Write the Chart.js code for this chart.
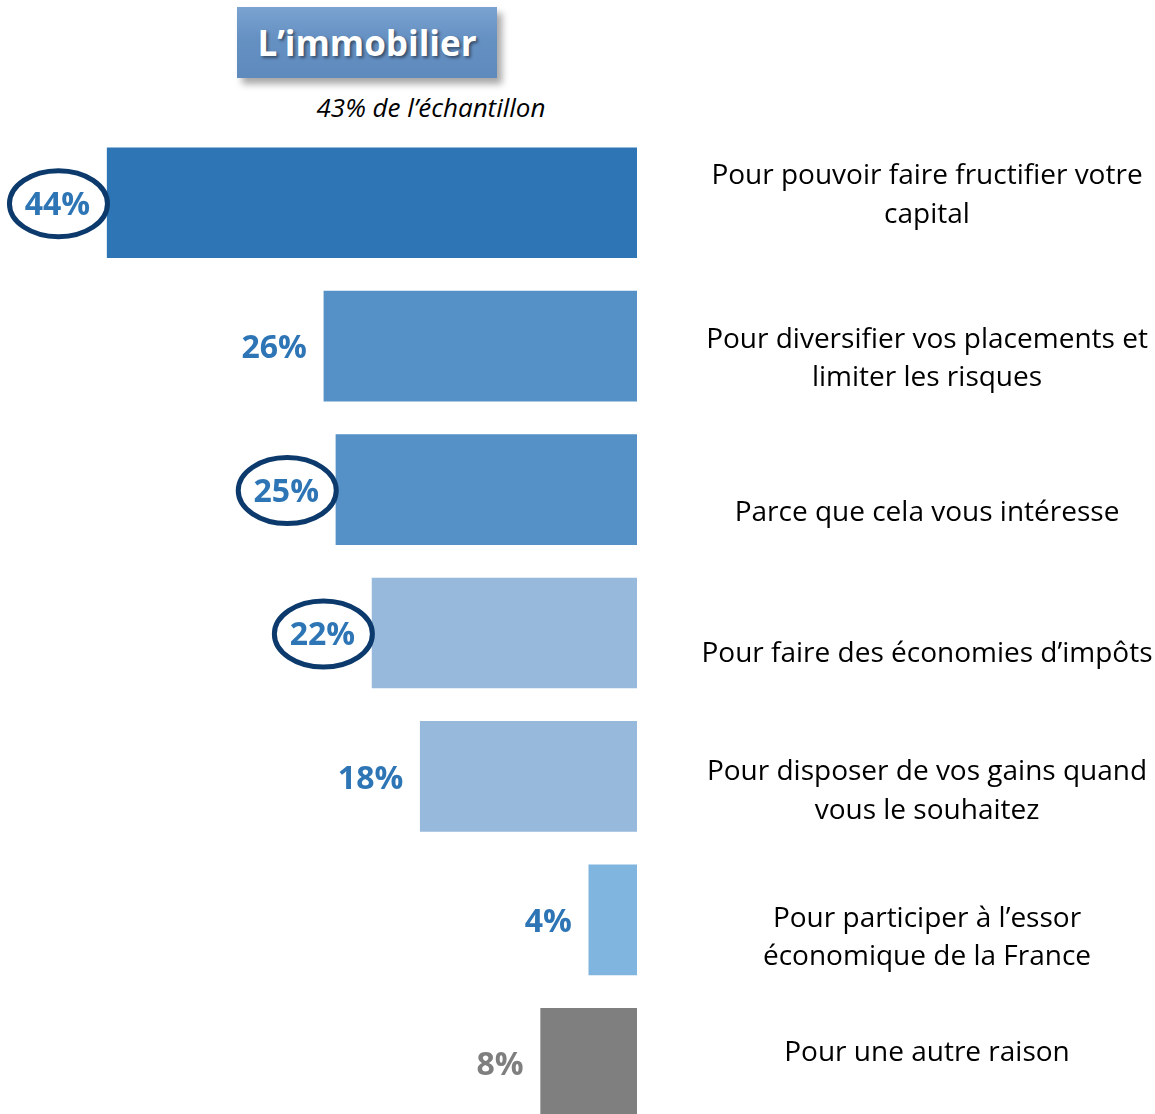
<!DOCTYPE html>
<html>
<head>
<meta charset="utf-8">
<script src="https://cdn.jsdelivr.net/npm/chart.js@4.4.0/dist/chart.umd.min.js"></script>
<style>
  html, body { margin: 0; padding: 0; background: #fff; overflow: hidden; }
  #wrap { position: relative; width: 1155px; height: 1114px; overflow: hidden; }
  #titre {
    position: absolute; left: 237px; top: 7px; width: 260px; height: 71px;
    background: linear-gradient(#7aa3d1, #6590c2 45%, #5f8abd);
    box-shadow: 5px 6px 7px rgba(0,0,0,0.35);
    color: #fff; font: bold 35px "Open Sans", sans-serif;
    text-align: center; line-height: 71px;
    text-shadow: 2px 2px 3px rgba(0,0,0,0.45);
  }
  #sous-titre {
    position: absolute; left: 231px; top: 89px; width: 400px; text-align: center;
    font: italic 26px "Open Sans", sans-serif; color: #000;
  }
  canvas { position: absolute; left: 0; top: 0; }
</style>
</head>
<body>
<div id="wrap">
  <div id="titre">L’immobilier</div>
  <div id="sous-titre">43% de l’échantillon</div>
  <canvas id="graphique" width="1155" height="1135"></canvas>
</div>
<script>
// données
const raisons = [
  ['Pour pouvoir faire fructifier votre', 'capital'],
  ['Pour diversifier vos placements et', 'limiter les risques'],
  ['Parce que cela vous intéresse'],
  ['Pour faire des économies d’impôts'],
  ['Pour disposer de vos gains quand', 'vous le souhaitez'],
  ['Pour participer à l’essor', 'économique de la France'],
  ['Pour une autre raison']
];
const pourcentages = [44, 26, 25, 22, 18, 4, 8];
const entoures = [true, false, true, true, false, false, false];

// mise en forme
const couleursBarres = ['#2e75b6', '#5591c6', '#5591c6', '#97b9db', '#97b9db', '#7fb5df', '#7f7f7f'];
const couleursValeurs = ['#2e75b6', '#2e75b6', '#2e75b6', '#2e75b6', '#2e75b6', '#2e75b6', '#7f7f7f'];
const decalageLibelles = [-7, 13, 23, 21, 15, 18, -10];

const annotations = {
  id: 'annotations',
  afterDatasetsDraw(chart) {
    const ctx = chart.ctx;
    const barres = chart.getDatasetMeta(0).data;
    ctx.save();
    barres.forEach((barre, i) => {
      // valeur à gauche de la barre
      const xTexte = barre.x - 17;
      ctx.font = 'bold 32px "Open Sans"';
      ctx.textAlign = 'right';
      ctx.textBaseline = 'middle';
      ctx.fillStyle = couleursValeurs[i];
      const texte = pourcentages[i] + '%';
      ctx.fillText(texte, xTexte, barre.y + 3);
      if (entoures[i]) {
        const largeur = ctx.measureText(texte).width;
        ctx.beginPath();
        ctx.ellipse(xTexte - largeur / 2 + 1, barre.y + 1, 49, 33, 0, 0, Math.PI * 2);
        ctx.lineWidth = 5;
        ctx.strokeStyle = '#0d3a6c';
        ctx.stroke();
      }
      // libellé à droite
      ctx.font = '28px "Open Sans"';
      ctx.textAlign = 'center';
      ctx.fillStyle = '#000';
      const lignes = raisons[i];
      const y0 = barre.y + decalageLibelles[i] - (lignes.length - 1) * 38.5 / 2;
      lignes.forEach((l, k) => ctx.fillText(l, 927, y0 + k * 38.5));
    });
    ctx.restore();
  }
};

function dessiner() {
  new Chart(document.getElementById('graphique'), {
    type: 'bar',
    data: {
      labels: raisons,
      datasets: [{
        data: pourcentages,
        backgroundColor: couleursBarres,
        barThickness: 110
      }]
    },
    options: {
      indexAxis: 'y',
      responsive: false,
      animation: false,
      layout: { padding: { left: 0, right: 518, top: 131, bottom: 0 } },
      scales: {
        x: { display: false, reverse: true, min: 0, max: 52.9 },
        y: { display: false }
      },
      plugins: {
        legend: { display: false },
        tooltip: { enabled: false }
      }
    },
    plugins: [annotations]
  });
}

Promise.all([
  document.fonts.load('bold 32px "Open Sans"'),
  document.fonts.load('28px "Open Sans"')
]).then(dessiner, dessiner);
</script>
</body>
</html>
